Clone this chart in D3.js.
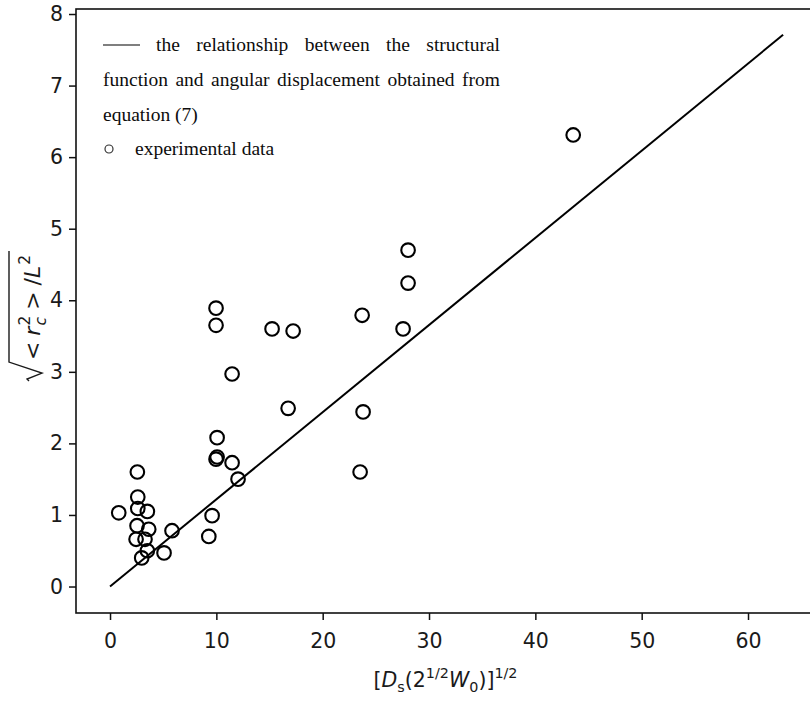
<!DOCTYPE html>
<html>
<head>
<meta charset="utf-8">
<script src="https://cdn.jsdelivr.net/npm/d3@7"></script>
<style>
  body { margin: 0; background: #fff; }
  svg { display: block; font-family: "DejaVu Sans", sans-serif; }
  .legend text { font-family: "Liberation Serif", serif; font-size: 19.5px; fill: #0d0d0d; }
</style>
</head>
<body>
<svg id="chart" width="810" height="707"></svg>
<script>
// experimental points
const xValues = [43.56, 28.03, 28.03, 23.71, 27.56, 15.24, 17.22, 9.97, 9.97, 11.48,
  16.75, 23.80, 10.07, 9.97, 10.07, 11.48, 12.04, 23.52,
  2.57, 2.61, 2.61, 3.51, 0.82, 2.54, 3.64, 2.45, 3.29, 3.51, 2.98, 5.08, 5.83, 9.29, 9.60];
const yValues = [6.31, 4.70, 4.24, 3.79, 3.60, 3.60, 3.57, 3.89, 3.65, 2.97,
  2.49, 2.44, 2.08, 1.78, 1.81, 1.73, 1.50, 1.60,
  1.60, 1.25, 1.09, 1.05, 1.03, 0.85, 0.80, 0.66, 0.66, 0.50, 0.40, 0.47, 0.78, 0.70, 0.99];

// relationship from equation (7)
const fitX = [0, 63.3];
const fitY = [0, 7.71];

const xTicks = [0, 10, 20, 30, 40, 50, 60];
const yTicks = [0, 1, 2, 3, 4, 5, 6, 7, 8];

const legendRow1 = 'the relationship between the structural';
const legendRow2 = 'function and angular displacement obtained from';
const legendRow3 = 'equation (7)';
const legendRow4 = 'experimental data';

// ----------------------------
const svg = d3.select('#chart');
const plot = { left: 76, top: 9, right: 815, bottom: 613 };

const x = d3.scaleLinear().domain([-3.2, 66.3]).range([plot.left, plot.right]);
const y = d3.scaleLinear().domain([-0.37, 8.07]).range([plot.bottom, plot.top]);

// axes
const xAxis = d3.axisBottom(x).tickValues(xTicks).tickSize(7).tickPadding(13).tickSizeOuter(0);
const yAxis = d3.axisLeft(y).tickValues(yTicks).tickSize(7).tickPadding(6).tickSizeOuter(0);

const gx = svg.append('g')
  .attr('transform', `translate(0,${plot.bottom})`)
  .call(xAxis);
const gy = svg.append('g')
  .attr('transform', `translate(${plot.left},0)`)
  .call(yAxis);

[gx, gy].forEach(g => {
  g.select('.domain').remove();
  g.selectAll('line').attr('stroke', '#111').attr('stroke-width', 1.5);
  g.selectAll('text')
    .attr('fill', '#1a1a1a')
    .style('font-size', '20.5px')
    .style('font-family', '"DejaVu Sans", sans-serif');
});

// frame (right side falls outside the window)
svg.append('rect')
  .attr('x', plot.left)
  .attr('y', plot.top)
  .attr('width', plot.right - plot.left)
  .attr('height', plot.bottom - plot.top)
  .attr('fill', 'none')
  .attr('stroke', '#111')
  .attr('stroke-width', 1.6);

// fitted line
svg.append('path')
  .datum(fitX.map((d, i) => [d, fitY[i]]))
  .attr('d', d3.line().x(d => x(d[0])).y(d => y(d[1])))
  .attr('fill', 'none')
  .attr('stroke', '#000')
  .attr('stroke-width', 2);

// points
svg.append('g')
  .selectAll('circle')
  .data(xValues.map((d, i) => ({ x: d, y: yValues[i] })))
  .join('circle')
  .attr('cx', d => x(d.x))
  .attr('cy', d => y(d.y))
  .attr('r', 6.8)
  .attr('fill', 'none')
  .attr('stroke', '#000')
  .attr('stroke-width', 2.1);

// ----------------------------
// math-like labels: pieces laid out one after another
function layoutMath(g, parts, fs) {
  let cx = 0;
  parts.forEach(p => {
    const sc = p.small ? 0.7 : 1;
    const t = g.append('text')
      .attr('x', cx + (p.before || 0))
      .attr('y', p.dy ? p.dy * fs : 0)
      .attr('fill', '#1a1a1a')
      .style('font-size', fs * sc + 'px')
      .style('font-style', p.it ? 'italic' : 'normal')
      .text(p.t);
    const w = t.node().getComputedTextLength();
    if (!p.stack) cx += (p.before || 0) + w + (p.after || 0);
  });
  return cx;
}

// x label
const xl = svg.append('g');
const xlW = layoutMath(xl, [
  { t: '[' },
  { t: 'D', it: true },
  { t: 's', small: true, dy: 0.22 },
  { t: '(' },
  { t: '2' },
  { t: '1/2', small: true, dy: -0.42 },
  { t: 'W', it: true },
  { t: '0', small: true, dy: 0.22 },
  { t: ')' },
  { t: ']' },
  { t: '1/2', small: true, dy: -0.42 }
], 20.5);
xl.attr('transform', `translate(${(plot.left + plot.right) / 2 - xlW / 2},687)`);

// y label with radical sign
const yl = svg.append('g');
const ylInner = yl.append('g');
const fsY = 22;
const ylW = layoutMath(ylInner, [
  { t: '<', after: 6 },
  { t: 'r', it: true, after: 1 },
  { t: 'c', it: true, small: true, dy: 0.25, stack: true },
  { t: '2', small: true, dy: -0.45, after: 6 },
  { t: '>', after: 6 },
  { t: '/' },
  { t: 'L', it: true, after: 1 },
  { t: '2', small: true, dy: -0.45 }
], fsY);
const radW = 21;
const total = radW + ylW + 4;
const s0 = -total / 2;
ylInner.attr('transform', `translate(${s0 + radW},0)`);
yl.append('path')
  .attr('d', `M${s0},-11 L${s0 + 2},-13 L${s0 + 8},2 L${s0 + 19},-31 L${s0 + total},-31`)
  .attr('fill', 'none')
  .attr('stroke', '#1a1a1a')
  .attr('stroke-width', 1.4);
yl.attr('transform', `translate(40,316) rotate(-90)`);

// ----------------------------
// legend block (serif, justified rows)
const legend = svg.append('g').attr('class', 'legend');

function justify(str, x0, x1, yb) {
  const words = str.split(' ');
  const nodes = words.map(w => legend.append('text').attr('y', yb).text(w));
  const widths = nodes.map(n => n.node().getComputedTextLength());
  const gap = (x1 - x0 - d3.sum(widths)) / (words.length - 1);
  let cx = x0;
  nodes.forEach((n, i) => { n.attr('x', cx); cx += widths[i] + gap; });
}

legend.append('line')
  .attr('x1', 103).attr('x2', 140)
  .attr('y1', 45).attr('y2', 45)
  .attr('stroke', '#555')
  .attr('stroke-width', 1.4);
justify(legendRow1, 156, 500, 51);
justify(legendRow2, 103, 500, 86);
legend.append('text').attr('x', 103).attr('y', 121).text(legendRow3);
legend.append('circle')
  .attr('cx', 109).attr('cy', 149).attr('r', 4)
  .attr('fill', 'none')
  .attr('stroke', '#333')
  .attr('stroke-width', 1.2);
legend.append('text').attr('x', 135).attr('y', 155).text(legendRow4);
</script>
</body>
</html>
